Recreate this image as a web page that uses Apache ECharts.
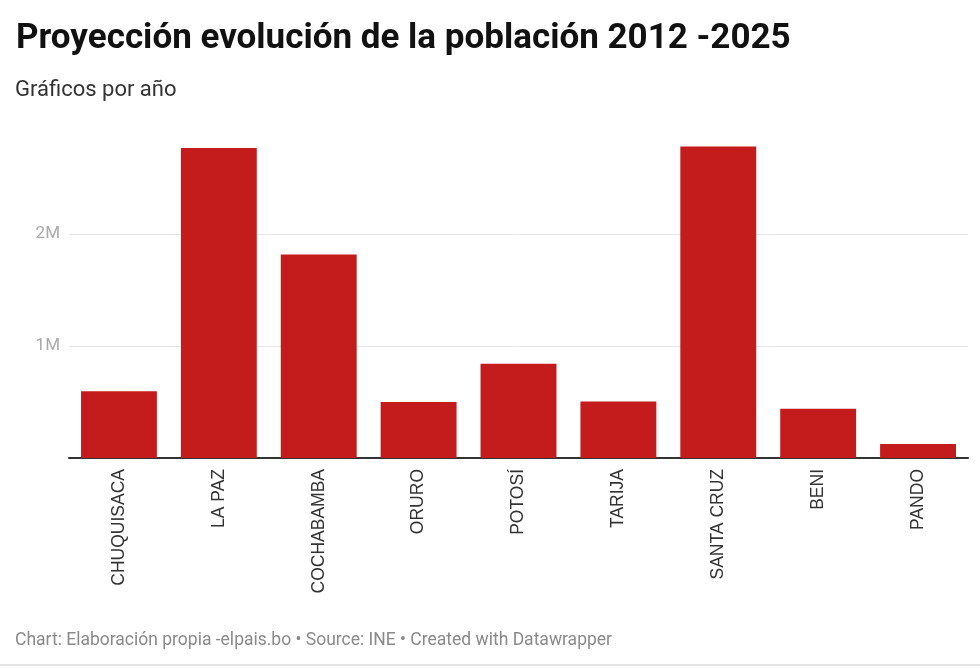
<!DOCTYPE html>
<html>
<head>
<meta charset="utf-8">
<script src="https://cdn.jsdelivr.net/npm/echarts@6/dist/echarts.min.js"></script>
<style>
  html, body { margin: 0; padding: 0; background: #fff; }
  #chart { width: 980px; height: 669px; }
</style>
</head>
<body>
<div id="chart"></div>
<script>
// datos
const departamentos = ['CHUQUISACA', 'LA PAZ', 'COCHABAMBA', 'ORURO', 'POTOSÍ', 'TARIJA', 'SANTA CRUZ', 'BENI', 'PANDO']
const poblacion = [595000, 2768000, 1818000, 500000, 842000, 505000, 2782000, 440000, 125000]
const yTicks = [0, 1000000, 2000000]

const chart = echarts.init(document.getElementById('chart'))
const option = {
  animation: false,
  textStyle: { fontFamily: 'Roboto' },
  title: [
    {
      text: 'Proyección evolución de la población 2012 -2025',
      left: 11, top: 17,
      textStyle: { fontSize: 35, fontWeight: 'bold', color: '#111', fontFamily: 'Roboto' }
    },
    {
      text: 'Gráficos por año',
      left: 10, top: 74,
      textStyle: { fontSize: 22, fontWeight: 'normal', color: '#333', fontFamily: 'Roboto' }
    },
    {
      text: 'Chart: Elaboración propia -elpais.bo • Source: INE • Created with Datawrapper',
      left: 10, top: 627,
      textStyle: { fontSize: 17.5, fontWeight: 'normal', color: '#8a8a8a', fontFamily: 'Roboto' }
    }
  ],
  graphic: [
    { type: 'rect', shape: { x: 0, y: 664, width: 980, height: 2 }, style: { fill: '#e4e4e4' } }
  ],
  grid: { left: 69, right: 12, top: 122, height: 336 },
  xAxis: {
    type: 'category',
    data: departamentos,
    axisLine: { lineStyle: { color: '#333', width: 2 } },
    axisTick: { show: false },
    axisLabel: {
      rotate: 90,
      interval: 0,
      margin: 11,
      fontSize: 17.5,
      color: '#333',
      fontFamily: 'Liberation Sans'
    }
  },
  yAxis: {
    type: 'value',
    min: 0,
    max: 3000000,
    interval: 1000000,
    axisLine: { show: false },
    axisTick: { show: false },
    splitLine: {
      lineStyle: { color: '#e6e6e6', width: 1 },
      showMaxLine: false
    },
    axisLabel: {
      margin: 9,
      fontSize: 17,
      color: '#aaa',
      formatter: function (v) {
        if (v === 0 || v === 3000000) return ''
        return yTicks.indexOf(v) >= 0 ? (v / 1000000) + 'M' : ''
      }
    }
  },
  series: [
    {
      type: 'bar',
      data: poblacion,
      barCategoryGap: '24%',
      itemStyle: { color: '#c41c1c' }
    }
  ]
}
chart.setOption(option)
</script>
</body>
</html>
